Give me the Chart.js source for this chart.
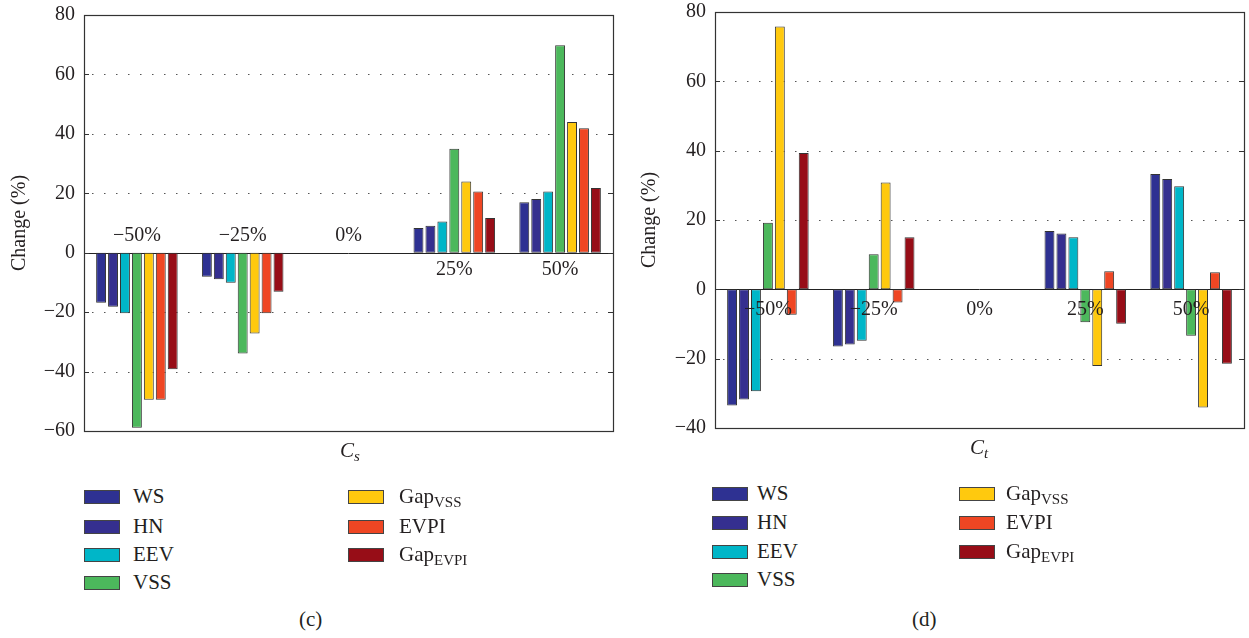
<!DOCTYPE html>
<html>
<head>
<meta charset="utf-8">
<script src="https://cdn.jsdelivr.net/npm/chart.js@4/dist/chart.umd.min.js"></script>
<style>
  body { margin: 0; background: #fff; font-family: "Liberation Serif", "DejaVu Serif", serif; color: #231f20; }
  #wrap { position: relative; width: 1249px; height: 638px; }
  canvas { position: absolute; }
  .txt { position: absolute; font-size: 21px; white-space: nowrap; }
  .sw { position: absolute; width: 34px; height: 12px; border: 1.5px solid #444; }
  sub { font-size: 15px; vertical-align: -4px; line-height: 0; }
  .xt { font-style: italic; font-size: 21px; }
  .xt sub { font-size: 15px; }
</style>
</head>
<body>
<div id="wrap">
  <canvas id="chartC" width="626" height="442" style="left:0;top:0"></canvas>
  <canvas id="chartD" width="619" height="440" style="left:630px;top:0"></canvas>
  <div id="legends"></div>
</div>
<script>
const categories = ['\u221250%', '\u221225%', '0%', '25%', '50%'];
const seriesNames = ['WS', 'HN', 'EEV', 'VSS', 'Gap<sub>VSS</sub>', 'EVPI', 'Gap<sub>EVPI</sub>'];
const seriesLabels = ['WS', 'HN', 'EEV', 'VSS', 'GapVSS', 'EVPI', 'GapEVPI'];

// panel (c): change of C_s
const csWS      = [-16.8,  -8.1, 0,  8.3, 17.0];
const csHN      = [-18.2,  -8.9, 0,  9.1, 18.1];
const csEEV     = [-20.4, -10.1, 0, 10.5, 20.6];
const csVSS     = [-58.9, -33.9, 0, 35.0, 69.8];
const csGapVSS  = [-49.5, -27.2, 0, 24.0, 44.0];
const csEVPI    = [-49.5, -20.4, 0, 20.6, 41.9];
const csGapEVPI = [-39.2, -13.1, 0, 11.7, 21.8];

// panel (d): change of C_t
const ctWS      = [-33.5, -16.5, 0,  16.8,  33.3];
const ctHN      = [-31.8, -15.9, 0,  16.1,  31.8];
const ctEEV     = [-29.4, -14.8, 0,  15.0,  29.7];
const ctVSS     = [ 19.2,  10.1, 0,  -9.5, -13.4];
const ctGapVSS  = [ 75.8,  30.8, 0, -22.1, -34.1];
const ctEVPI    = [ -7.3,  -3.8, 0,   5.2,   4.9];
const ctGapEVPI = [ 39.3,  15.0, 0,  -9.9, -21.5];

const csRange = [-60, 80];
const ctRange = [-40, 80];

const colors = ['#2e3192', '#352f8f', '#00b6c8', '#4cb85c', '#ffc90e', '#ef4623', '#970d17'];
const serif = '"Liberation Serif", "DejaVu Serif", serif';

const decor = {
  id: 'decor',
  afterDatasetsDraw(chart, args, opts) {
    const { ctx, scales: { x, y } } = chart;
    const y0 = y.getPixelForValue(0);
    ctx.save();
    ctx.font = '20px ' + serif;
    ctx.fillStyle = '#231f20';
    ctx.textAlign = 'center';
    ctx.textBaseline = 'middle';
    categories.forEach((c, i) => {
      const dy = opts.above[i] ? -opts.gap : opts.gap;
      ctx.fillText(c, x.getPixelForValue(i), y0 + dy);
    });
    ctx.restore();
  },
  beforeDatasetsDraw(chart) {
    const { ctx, chartArea: a, scales: { y } } = chart;
    ctx.save();
    ctx.strokeStyle = '#555';
    ctx.lineWidth = 1;
    ctx.setLineDash([1.5, 10.5]);
    y.ticks.forEach((t, i) => {
      if (t.value === 0 || i === 0 || i === y.ticks.length - 1) return;
      const py = Math.round(y.getPixelForValue(t.value)) + 0.5;
      ctx.beginPath();
      ctx.moveTo(a.left + 8, py);
      ctx.lineTo(a.right, py);
      ctx.stroke();
    });
    ctx.setLineDash([]);
    const y0 = Math.round(y.getPixelForValue(0)) + 0.5;
    ctx.strokeStyle = '#222';
    ctx.beginPath();
    ctx.moveTo(a.left, y0);
    ctx.lineTo(a.right, y0);
    ctx.stroke();
    ctx.restore();
  },
  afterDraw(chart) {
    const { ctx, chartArea: a, scales: { y } } = chart;
    ctx.save();
    ctx.strokeStyle = '#333';
    ctx.lineWidth = 1.2;
    ctx.strokeRect(Math.round(a.left) + 0.5, Math.round(a.top) + 0.5,
      Math.round(a.right - a.left), Math.round(a.bottom - a.top));
    y.ticks.forEach(t => {
      const py = Math.round(y.getPixelForValue(t.value)) + 0.5;
      ctx.beginPath();
      ctx.moveTo(a.left, py); ctx.lineTo(a.left + 5, py);
      ctx.moveTo(a.right, py); ctx.lineTo(a.right - 5, py);
      ctx.stroke();
    });
    ctx.restore();
  }
};

function makeChart(id, series, range, padding, yWidth, above, gap) {
  return new Chart(document.getElementById(id), {
    type: 'bar',
    data: {
      labels: categories,
      datasets: series.map((d, i) => ({
        label: seriesLabels[i],
        data: d,
        backgroundColor: colors[i],
        borderColor: '#333',
        borderWidth: 1,
        borderSkipped: false,
        categoryPercentage: 0.79,
        barPercentage: 0.83
      }))
    },
    options: {
      responsive: false,
      animation: false,
      layout: { padding },
      plugins: {
        legend: { display: false },
        tooltip: { enabled: false },
        decor: { above, gap }
      },
      scales: {
        x: { display: false },
        y: {
          min: range[0],
          max: range[1],
          grid: { display: false, drawTicks: false },
          border: { display: false },
          ticks: {
            stepSize: 20,
            padding: 9,
            color: '#231f20',
            font: { family: serif, size: 20 },
            callback: v => String(v).replace('-', '\u2212')
          },
          title: {
            display: true,
            text: 'Change (%)',
            color: '#231f20',
            font: { family: serif, size: 20 },
            padding: { top: 8, bottom: 0 }
          },
          afterFit(scale) {
            scale.width = yWidth;
            scale.paddingTop = 0;
            scale.paddingBottom = 0;
          }
        }
      }
    },
    plugins: [decor]
  });
}

makeChart('chartC', [csWS, csHN, csEEV, csVSS, csGapVSS, csEVPI, csGapEVPI], csRange,
  { top: 15, right: 13, bottom: 11, left: 0 }, 84, [true, true, true, false, false], 17);
makeChart('chartD', [ctWS, ctHN, ctEEV, ctVSS, ctGapVSS, ctEVPI, ctGapEVPI], ctRange,
  { top: 12, right: 5, bottom: 12, left: 0 }, 85, [false, false, false, false, false], 20);

// legends, axis titles and captions as real text
const legendSpecs = [
  { cols: [[84, 133], [348, 399]], rows: [497, 527, 555, 583], xTitle: ['C', 's', 340, 438], cap: ['(c)', 312] },
  { cols: [[712, 757], [959, 1006]], rows: [494, 523, 552, 580], xTitle: ['C', 't', 970, 435], cap: ['(d)', 925] }
];
const host = document.getElementById('legends');
legendSpecs.forEach(s => {
  seriesNames.forEach((n, i) => {
    const col = i < 4 ? s.cols[0] : s.cols[1];
    const row = s.rows[i < 4 ? i : i - 4];
    const sw = document.createElement('div');
    sw.className = 'sw';
    sw.style.left = col[0] + 'px';
    sw.style.top = (row - 7) + 'px';
    sw.style.background = colors[i];
    host.appendChild(sw);
    const t = document.createElement('div');
    t.className = 'txt';
    t.style.left = col[1] + 'px';
    t.style.top = (row - 13) + 'px';
    t.innerHTML = n;
    host.appendChild(t);
  });
  const xt = document.createElement('div');
  xt.className = 'txt xt';
  xt.style.left = s.xTitle[2] + 'px';
  xt.style.top = s.xTitle[3] + 'px';
  xt.innerHTML = s.xTitle[0] + '<sub>' + s.xTitle[1] + '</sub>';
  host.appendChild(xt);
  const cap = document.createElement('div');
  cap.className = 'txt';
  cap.style.left = (s.cap[1] - 13) + 'px';
  cap.style.top = '607px';
  cap.textContent = s.cap[0];
  host.appendChild(cap);
});
</script>
</body>
</html>
